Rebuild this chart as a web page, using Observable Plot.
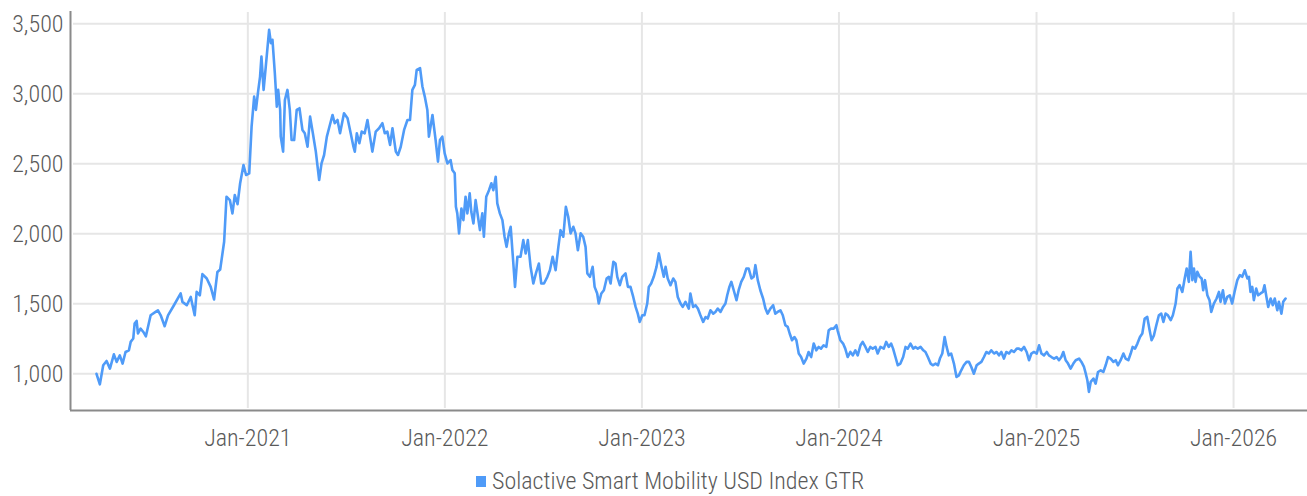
<!DOCTYPE html>
<html><head><meta charset="utf-8">
<script src="https://cdn.jsdelivr.net/npm/d3@7"></script>
<script src="https://cdn.jsdelivr.net/npm/@observablehq/plot@0.6"></script>
<style>
html,body{margin:0;padding:0;background:#fff;}
#wrap{position:relative;width:1307px;height:496px;font-family:"Roboto Condensed","Liberation Sans Narrow","DejaVu Sans Condensed",Roboto,sans-serif;font-weight:300;color:#5a5a5a;}
#legend{position:absolute;left:476px;top:468px;display:flex;align-items:center;font-size:24px;line-height:26px;white-space:nowrap;}
#legend .sw{display:inline-block;width:10px;height:11px;background:#4f9bf8;margin-right:6px;}
</style></head><body>
<div id="wrap"><div id="chart"></div><div id="legend"><span class="sw"></span><span>Solactive Smart Mobility USD Index GTR</span></div></div>
<script>
const seriesName = "Solactive Smart Mobility USD Index GTR";
const yTickValues = [1000, 1500, 2000, 2500, 3000, 3500];
const xTickYears = [2021, 2022, 2023, 2024, 2025, 2026];

// decimal-year time stamps and index levels
const t2020 = [2020.234,2020.251,2020.268,2020.285,2020.302,2020.322,2020.336,2020.352,2020.366,2020.381,2020.398,2020.407,2020.420,2020.427,2020.437,2020.444,2020.457,2020.471,2020.484,2020.508,2020.533,2020.545,2020.559,2020.579,2020.596,2020.626,2020.660,2020.669,2020.691,2020.711,2020.731,2020.741,2020.757,2020.770,2020.792,2020.812,2020.829,2020.846,2020.860,2020.880,2020.892,2020.909,2020.922,2020.934,2020.948,2020.961,2020.978,2020.991];
const v2020 = [1000,925,1061,1092,1037,1139,1085,1132,1073,1156,1168,1228,1252,1359,1378,1288,1323,1299,1268,1418,1442,1454,1418,1340,1418,1490,1574,1514,1490,1549,1418,1585,1561,1712,1681,1621,1531,1728,1745,1943,2265,2241,2146,2277,2212,2361,2491,2420];

const t2021 = [2021.007,2021.019,2021.032,2021.041,2021.052,2021.062,2021.069,2021.080,2021.091,2021.108,2021.117,2021.125,2021.137,2021.147,2021.154,2021.164,2021.167,2021.179,2021.188,2021.201,2021.213,2021.222,2021.235,2021.248,2021.262,2021.277,2021.289,2021.303,2021.316,2021.330,2021.345,2021.362,2021.374,2021.387,2021.401,2021.414,2021.430,2021.441,2021.455,2021.468,2021.488,2021.506,2021.522,2021.536,2021.543,2021.553,2021.566,2021.578,2021.593,2021.607,2021.620,2021.632,2021.649,2021.666,2021.683,2021.695,2021.708,2021.722,2021.734,2021.751,2021.762,2021.776,2021.793,2021.810,2021.823,2021.835,2021.848,2021.857,2021.874,2021.886,2021.898,2021.911,2021.919,2021.937,2021.953,2021.965,2021.975,2021.987,2021.999];
const v2021 = [2432,2765,2980,2885,3016,3123,3266,3028,3195,3457,3362,3386,3147,2908,3028,2885,2694,2587,2956,3028,2885,2670,2670,2885,2897,2742,2718,2622,2837,2718,2587,2384,2503,2563,2694,2765,2849,2790,2813,2718,2861,2825,2718,2622,2587,2718,2647,2730,2718,2813,2694,2587,2730,2754,2790,2718,2730,2635,2754,2587,2563,2622,2742,2813,2813,3028,3064,3171,3183,3052,2980,2885,2694,2849,2670,2515,2670,2694,2575];

const t2022 = [2022.013,2022.029,2022.038,2022.050,2022.056,2022.063,2022.072,2022.084,2022.094,2022.105,2022.114,2022.126,2022.134,2022.145,2022.156,2022.168,2022.178,2022.190,2022.198,2022.210,2022.224,2022.236,2022.246,2022.258,2022.266,2022.279,2022.292,2022.303,2022.313,2022.325,2022.334,2022.345,2022.356,2022.368,2022.384,2022.398,2022.410,2022.421,2022.435,2022.449,2022.462,2022.477,2022.489,2022.503,2022.520,2022.533,2022.547,2022.562,2022.576,2022.587,2022.601,2022.614,2022.626,2022.638,2022.652,2022.663,2022.675,2022.689,2022.702,2022.714,2022.723,2022.736,2022.750,2022.760,2022.773,2022.781,2022.794,2022.807,2022.821,2022.832,2022.841,2022.855,2022.866,2022.875,2022.888,2022.900,2022.917,2022.929,2022.942,2022.956,2022.968,2022.979,2022.989];
const v2022 = [2503,2527,2456,2432,2193,2146,2003,2181,2098,2265,2146,2289,2157,2074,2241,2122,2026,2146,1979,2265,2312,2361,2312,2408,2217,2146,2098,1979,1907,2003,2050,1836,1621,1836,1836,1955,1860,1955,1764,1645,1717,1788,1645,1645,1693,1740,1836,1740,1907,2026,1979,2193,2122,2003,2050,2003,1883,2003,1979,1907,1717,1693,1764,1621,1574,1502,1574,1597,1681,1693,1645,1800,1788,1693,1633,1693,1717,1621,1621,1549,1478,1430,1371];

const t2023 = [2023.002,2023.013,2023.027,2023.035,2023.047,2023.060,2023.074,2023.086,2023.098,2023.111,2023.120,2023.131,2023.145,2023.159,2023.170,2023.182,2023.196,2023.207,2023.221,2023.238,2023.246,2023.260,2023.272,2023.284,2023.297,2023.311,2023.323,2023.334,2023.348,2023.362,2023.373,2023.385,2023.399,2023.412,2023.424,2023.433,2023.444,2023.454,2023.466,2023.480,2023.491,2023.504,2023.517,2023.530,2023.542,2023.556,2023.567,2023.576,2023.588,2023.601,2023.615,2023.627,2023.638,2023.652,2023.666,2023.677,2023.689,2023.703,2023.715,2023.728,2023.740,2023.750,2023.762,2023.774,2023.784,2023.796,2023.808,2023.821,2023.835,2023.846,2023.859,2023.872,2023.885,2023.897,2023.909,2023.922,2023.936,2023.948,2023.960,2023.973,2023.987,2023.993];
const v2023 = [1418,1418,1502,1621,1645,1693,1764,1860,1776,1693,1764,1681,1633,1681,1657,1549,1502,1478,1514,1466,1574,1478,1490,1466,1418,1371,1406,1395,1454,1430,1442,1466,1442,1478,1502,1561,1621,1657,1597,1526,1597,1657,1693,1752,1752,1681,1693,1776,1669,1597,1538,1466,1430,1466,1490,1430,1442,1454,1418,1347,1335,1288,1240,1263,1240,1145,1120,1073,1109,1156,1120,1216,1168,1192,1180,1204,1192,1311,1323,1323,1347,1311];

const t2024 = [2024.007,2024.021,2024.032,2024.044,2024.058,2024.070,2024.083,2024.095,2024.109,2024.120,2024.134,2024.146,2024.159,2024.171,2024.185,2024.196,2024.210,2024.227,2024.239,2024.252,2024.264,2024.274,2024.286,2024.298,2024.311,2024.325,2024.337,2024.348,2024.362,2024.376,2024.387,2024.399,2024.413,2024.427,2024.438,2024.450,2024.464,2024.475,2024.489,2024.501,2024.511,2024.523,2024.535,2024.545,2024.556,2024.568,2024.582,2024.595,2024.607,2024.619,2024.632,2024.646,2024.658,2024.670,2024.683,2024.697,2024.708,2024.721,2024.734,2024.746,2024.759,2024.771,2024.785,2024.798,2024.810,2024.822,2024.835,2024.847,2024.861,2024.873,2024.886,2024.900,2024.911,2024.923,2024.937,2024.950,2024.962,2024.974,2024.987];
const v2024 = [1240,1216,1180,1120,1156,1132,1168,1132,1204,1228,1192,1156,1192,1180,1192,1145,1192,1180,1228,1192,1216,1180,1120,1061,1073,1120,1192,1180,1216,1180,1192,1180,1192,1168,1156,1120,1073,1061,1073,1061,1109,1145,1263,1192,1132,1145,1073,977,989,1025,1061,1085,1085,1049,1001,1061,1073,1085,1120,1156,1145,1168,1145,1156,1132,1156,1109,1156,1145,1168,1156,1180,1180,1168,1192,1156,1097,1145,1156];

const t2025 = [2025.001,2025.013,2025.025,2025.038,2025.052,2025.063,2025.076,2025.089,2025.102,2025.114,2025.126,2025.136,2025.148,2025.160,2025.173,2025.187,2025.199,2025.216,2025.228,2025.241,2025.250,2025.258,2025.266,2025.275,2025.289,2025.300,2025.312,2025.326,2025.339,2025.351,2025.363,2025.376,2025.390,2025.402,2025.413,2025.427,2025.441,2025.452,2025.466,2025.478,2025.488,2025.500,2025.512,2025.525,2025.537,2025.549,2025.562,2025.574,2025.584,2025.596,2025.608,2025.621,2025.633,2025.644,2025.655,2025.667,2025.681,2025.692,2025.706,2025.715,2025.726,2025.740,2025.752,2025.762,2025.773,2025.782,2025.791,2025.799,2025.807,2025.816,2025.828,2025.838,2025.846,2025.855,2025.867,2025.878,2025.887,2025.900,2025.914,2025.926,2025.934,2025.946,2025.956,2025.968,2025.981,2025.993];
const v2025 = [1145,1204,1145,1132,1156,1132,1120,1109,1120,1097,1120,1156,1097,1073,1037,1073,1097,1109,1085,1049,1001,954,871,942,966,930,1013,1025,1013,1061,1120,1109,1085,1097,1061,1097,1145,1109,1097,1145,1192,1180,1216,1263,1288,1395,1406,1311,1240,1275,1347,1418,1430,1371,1430,1418,1383,1418,1502,1609,1633,1585,1681,1752,1657,1871,1669,1752,1657,1728,1693,1681,1597,1669,1561,1526,1442,1502,1538,1585,1514,1597,1502,1549,1561,1502];

const t2026 = [2026.005,2026.019,2026.032,2026.044,2026.057,2026.070,2026.078,2026.086,2026.095,2026.103,2026.115,2026.125,2026.137,2026.149,2026.157,2026.167,2026.176,2026.188,2026.199,2026.209,2026.222,2026.230,2026.243,2026.252,2026.264];
const v2026 = [1585,1669,1705,1693,1740,1681,1693,1585,1621,1526,1609,1561,1574,1585,1633,1549,1478,1538,1490,1538,1454,1514,1430,1514,1538];

function toDate(t) {
  const y = Math.floor(t);
  const s = new Date(y, 0, 1), e = new Date(y + 1, 0, 1);
  return new Date(+s + (t - y) * (e - s));
}

const times = [t2020, t2021, t2022, t2023, t2024, t2025, t2026];
const vals = [v2020, v2021, v2022, v2023, v2024, v2025, v2026];
const data = [];
times.forEach((ts, i) => ts.forEach((t, j) => {
  if (vals[i][j] != null) data.push({date: toDate(t), value: vals[i][j], series: seriesName});
}));

const xTickDates = xTickYears.map(y => new Date(y, 0, 1));
const xDomain = [toDate(2020.1024), toDate(2026.3753)];
const yDomain = [738, 3588];
const FONT = '"Roboto Condensed","Liberation Sans Narrow","DejaVu Sans Condensed",Roboto,sans-serif';

const chart = Plot.plot({
  width: 1307,
  height: 450,
  marginLeft: 70,
  marginRight: 0,
  marginTop: 11,
  marginBottom: 40,
  style: {fontFamily: FONT, fontSize: "24px", fontWeight: 300, color: "#5a5a5a", background: "#fff", overflow: "visible"},
  x: {type: "time", domain: xDomain, ticks: xTickDates, tickFormat: d3.timeFormat("%b-%Y"), tickSize: 0, tickPadding: 18, label: null},
  y: {domain: yDomain, ticks: yTickValues, tickFormat: d3.format(","), tickSize: 0, tickPadding: 7, label: null},
  marks: [
    Plot.ruleY(yTickValues, {stroke: "#e6e6e6", strokeWidth: 2, insetLeft: 3}),
    Plot.ruleX(xTickDates, {stroke: "#e6e6e6", strokeWidth: 2, insetTop: 1, insetBottom: 2}),
    Plot.ruleY([yDomain[0]], {stroke: "#8a8a8a", strokeWidth: 2}),
    Plot.ruleX([xDomain[0]], {stroke: "#8a8a8a", strokeWidth: 2}),
    Plot.line(data, {x: "date", y: "value", stroke: "#4f9bf8", strokeWidth: 2.6})
  ]
});
document.getElementById("chart").appendChild(chart);
</script>
</body></html>
